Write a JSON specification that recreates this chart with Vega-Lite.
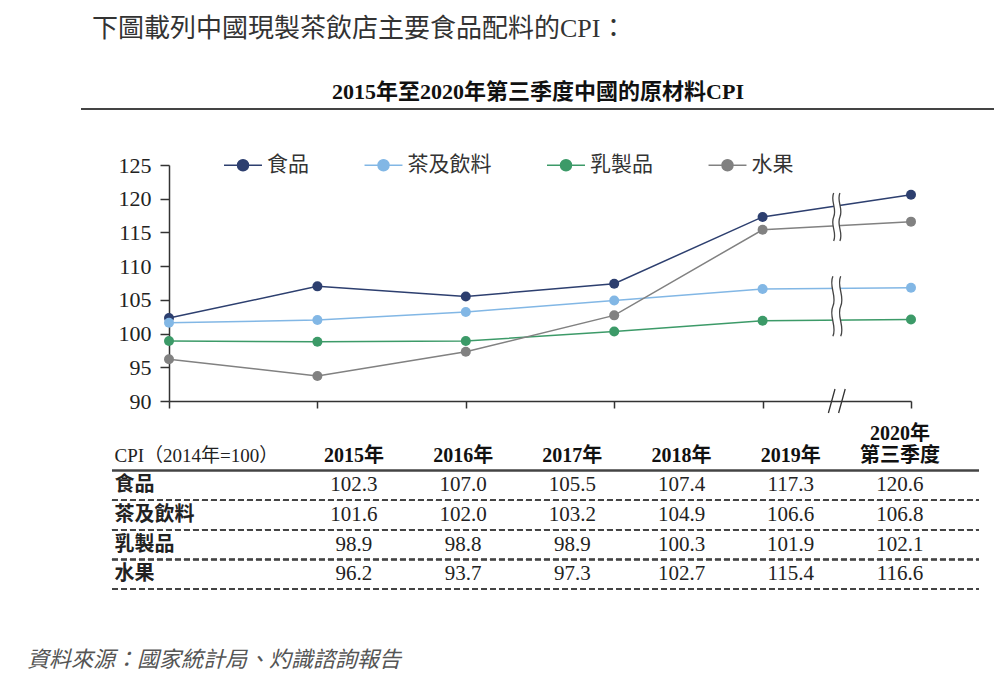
{
  "$schema": "https://vega.github.io/schema/vega-lite/v6.json",
  "background": "white",
  "padding": {"left": 27, "top": 16, "right": 0, "bottom": 0},
  "config": {
    "view": {"stroke": null},
    "font": "Liberation Serif, Noto Sans CJK TC"
  },
  "title": {
    "text": "資料來源：國家統計局、灼識諮詢報告",
    "orient": "bottom",
    "anchor": "start",
    "dx": -53,
    "offset": 60,
    "font": "Noto Sans CJK TC",
    "fontSize": 22,
    "fontStyle": "italic",
    "fontWeight": "normal",
    "color": "#555555"
  },
  "datasets": {
    "cpi": [
      {"category": "食品", "year": 2015, "period": "2015年", "value": 102.3},
      {"category": "食品", "year": 2016, "period": "2016年", "value": 107.0},
      {"category": "食品", "year": 2017, "period": "2017年", "value": 105.5},
      {"category": "食品", "year": 2018, "period": "2018年", "value": 107.4},
      {"category": "食品", "year": 2019, "period": "2019年", "value": 117.3},
      {"category": "食品", "year": 2020, "period": "2020年\n第三季度", "value": 120.6},
      {"category": "茶及飲料", "year": 2015, "period": "2015年", "value": 101.6},
      {"category": "茶及飲料", "year": 2016, "period": "2016年", "value": 102.0},
      {"category": "茶及飲料", "year": 2017, "period": "2017年", "value": 103.2},
      {"category": "茶及飲料", "year": 2018, "period": "2018年", "value": 104.9},
      {"category": "茶及飲料", "year": 2019, "period": "2019年", "value": 106.6},
      {"category": "茶及飲料", "year": 2020, "period": "2020年\n第三季度", "value": 106.8},
      {"category": "乳製品", "year": 2015, "period": "2015年", "value": 98.9},
      {"category": "乳製品", "year": 2016, "period": "2016年", "value": 98.8},
      {"category": "乳製品", "year": 2017, "period": "2017年", "value": 98.9},
      {"category": "乳製品", "year": 2018, "period": "2018年", "value": 100.3},
      {"category": "乳製品", "year": 2019, "period": "2019年", "value": 101.9},
      {"category": "乳製品", "year": 2020, "period": "2020年\n第三季度", "value": 102.1},
      {"category": "水果", "year": 2015, "period": "2015年", "value": 96.2},
      {"category": "水果", "year": 2016, "period": "2016年", "value": 93.7},
      {"category": "水果", "year": 2017, "period": "2017年", "value": 97.3},
      {"category": "水果", "year": 2018, "period": "2018年", "value": 102.7},
      {"category": "水果", "year": 2019, "period": "2019年", "value": 115.4},
      {"category": "水果", "year": 2020, "period": "2020年\n第三季度", "value": 116.6}
    ]
  },
  "spacing": 44,
  "resolve": {"legend": {"color": "independent"}},
  "vconcat": [
    {
      "width": 737,
      "height": 1,
      "title": {
        "text": "下圖載列中國現製茶飲店主要食品配料的CPI：",
        "anchor": "start",
        "dx": 12,
        "offset": 12,
        "baseline": "bottom",
        "font": "Liberation Serif, Noto Sans CJK TC",
        "fontSize": 26,
        "fontWeight": "normal",
        "color": "#333333"
      },
      "data": {"values": [{}]},
      "mark": {"type": "rule", "color": "#444444", "strokeWidth": 2},
      "encoding": {
        "x": {
          "datum": -0.1194,
          "type": "quantitative",
          "scale": {"domain": [0, 1]},
          "axis": {
            "orient": "top",
            "title": "2015年至2020年第三季度中國的原材料CPI",
            "domain": false,
            "ticks": false,
            "labels": false,
            "grid": false,
            "titleFont": "Liberation Serif, Noto Sans CJK TC",
            "titleFontSize": 22,
            "titleFontWeight": "bold",
            "titleColor": "#111111",
            "titlePadding": 6
          }
        },
        "x2": {"datum": 1.1194},
        "y": {"value": 0}
      }
    },
    {
      "spacing": 7,
      "resolve": {"legend": {"color": "independent"}},
      "vconcat": [
        {
          "width": 742,
          "height": 236,
          "layer": [
            {
              "data": {"name": "cpi"},
              "mark": {"type": "line", "strokeWidth": 1.5},
              "encoding": {
                "x": {
                  "field": "year", "type": "quantitative",
                  "scale": {"domain": [2015, 2020], "nice": false, "zero": false},
                  "axis": {"title": null, "values": [2015, 2016, 2017, 2018, 2019, 2020], "labels": false, "grid": false, "tickSize": 7, "tickColor": "#333333", "tickWidth": 1.5, "domainColor": "#333333", "domainWidth": 1.5}
                },
                "y": {
                  "field": "value", "type": "quantitative",
                  "scale": {"domain": [90, 125], "nice": false, "zero": false},
                  "axis": {"title": null, "values": [90, 95, 100, 105, 110, 115, 120, 125], "grid": false, "tickSize": 9, "tickColor": "#333333", "tickWidth": 1.5, "domainColor": "#333333", "domainWidth": 1.5, "labelFont": "Liberation Serif", "labelFontSize": 22, "labelColor": "#222222", "labelPadding": 9, "labelOverlap": false}
                },
                "color": {
                  "field": "category",
                  "type": "nominal",
                  "scale": {
                    "domain": ["食品", "茶及飲料", "乳製品", "水果"],
                    "range": ["#2D3F6F", "#82B7E5", "#3C9A68", "#818181"]
                  },
                  "legend": {
                    "orient": "none",
                    "legendX": 63.5,
                    "legendY": -10.5,
                    "direction": "horizontal",
                    "title": null,
                    "padding": 0,
                    "symbolType": "M-3.45,0L-1,0M1,0L3.45,0M-1,0A1,1 0 1,1 1,0A1,1 0 1,1 -1,0Z",
                    "symbolSize": 121,
                    "symbolStrokeWidth": 1.5,
                    "labelOffset": 13.5,
                    "labelFont": "Noto Sans CJK TC",
                    "labelFontSize": 21,
                    "labelColor": "#333333",
                    "labelLimit": 400,
                    "columnPadding": 51.5,
                    "encode": {
                      "symbols": {
                        "update": {
                          "fill": {"scale": "color", "field": "value"},
                          "stroke": {"scale": "color", "field": "value"},
                          "opacity": {"value": 1}
                        }
                      }
                    }
                  }
                }
              }
            },
            {
              "data": {"name": "cpi"},
              "mark": {"type": "point", "filled": true, "size": 100, "opacity": 1},
              "encoding": {
                "x": {
                  "field": "year", "type": "quantitative",
                  "scale": {"domain": [2015, 2020], "nice": false, "zero": false},
                  "axis": {"title": null, "values": [2015, 2016, 2017, 2018, 2019, 2020], "labels": false, "grid": false, "tickSize": 7, "tickColor": "#333333", "tickWidth": 1.5, "domainColor": "#333333", "domainWidth": 1.5}
                },
                "y": {
                  "field": "value", "type": "quantitative",
                  "scale": {"domain": [90, 125], "nice": false, "zero": false},
                  "axis": {"title": null, "values": [90, 95, 100, 105, 110, 115, 120, 125], "grid": false, "tickSize": 9, "tickColor": "#333333", "tickWidth": 1.5, "domainColor": "#333333", "domainWidth": 1.5, "labelFont": "Liberation Serif", "labelFontSize": 22, "labelColor": "#222222", "labelPadding": 9, "labelOverlap": false}
                },
                "color": {"field": "category", "type": "nominal"}
              }
            },
            {
              "data": {"values": [{}]},
              "mark": {
                "type": "point",
                "shape": "M-0.13,-1C-0.28,-0.67 0.02,-0.33 -0.13,0C-0.28,0.33 0.02,0.67 -0.13,1L0.13,1C0.28,0.67 -0.02,0.33 0.13,0C0.28,-0.33 -0.02,-0.67 0.13,-1Z",
                "filled": true, "color": "white", "strokeWidth": 0, "opacity": 1, "size": 2304
              },
              "encoding": {
                "x": {
                  "datum": 2019.5, "type": "quantitative",
                  "scale": {"domain": [2015, 2020], "nice": false, "zero": false},
                  "axis": {"title": null, "values": [2015, 2016, 2017, 2018, 2019, 2020], "labels": false, "grid": false, "tickSize": 7, "tickColor": "#333333", "tickWidth": 1.5, "domainColor": "#333333", "domainWidth": 1.5}
                },
                "y": {
                  "datum": 117.3, "type": "quantitative",
                  "scale": {"domain": [90, 125], "nice": false, "zero": false},
                  "axis": {"title": null, "values": [90, 95, 100, 105, 110, 115, 120, 125], "grid": false, "tickSize": 9, "tickColor": "#333333", "tickWidth": 1.5, "domainColor": "#333333", "domainWidth": 1.5, "labelFont": "Liberation Serif", "labelFontSize": 22, "labelColor": "#222222", "labelPadding": 9, "labelOverlap": false}
                }
              }
            },
            {
              "data": {"values": [{}]},
              "mark": {
                "type": "point",
                "shape": "M-0.13,-1C-0.28,-0.67 0.02,-0.33 -0.13,0C-0.28,0.33 0.02,0.67 -0.13,1L0.13,1C0.28,0.67 -0.02,0.33 0.13,0C0.28,-0.33 -0.02,-0.67 0.13,-1Z",
                "filled": true, "color": "white", "strokeWidth": 0, "opacity": 1, "size": 3600
              },
              "encoding": {
                "x": {
                  "datum": 2019.5, "type": "quantitative",
                  "scale": {"domain": [2015, 2020], "nice": false, "zero": false},
                  "axis": {"title": null, "values": [2015, 2016, 2017, 2018, 2019, 2020], "labels": false, "grid": false, "tickSize": 7, "tickColor": "#333333", "tickWidth": 1.5, "domainColor": "#333333", "domainWidth": 1.5}
                },
                "y": {
                  "datum": 104.05, "type": "quantitative",
                  "scale": {"domain": [90, 125], "nice": false, "zero": false},
                  "axis": {"title": null, "values": [90, 95, 100, 105, 110, 115, 120, 125], "grid": false, "tickSize": 9, "tickColor": "#333333", "tickWidth": 1.5, "domainColor": "#333333", "domainWidth": 1.5, "labelFont": "Liberation Serif", "labelFontSize": 22, "labelColor": "#222222", "labelPadding": 9, "labelOverlap": false}
                }
              }
            },
            {
              "data": {"values": [{}]},
              "mark": {
                "type": "point",
                "shape": "M-0.13,-1C-0.28,-0.67 0.02,-0.33 -0.13,0C-0.28,0.33 0.02,0.67 -0.13,1M0.13,-1C-0.02,-0.67 0.28,-0.33 0.13,0C-0.02,0.33 0.28,0.67 0.13,1",
                "filled": false, "color": "#444444", "strokeWidth": 1.3, "opacity": 1, "size": 2304
              },
              "encoding": {
                "x": {
                  "datum": 2019.5, "type": "quantitative",
                  "scale": {"domain": [2015, 2020], "nice": false, "zero": false},
                  "axis": {"title": null, "values": [2015, 2016, 2017, 2018, 2019, 2020], "labels": false, "grid": false, "tickSize": 7, "tickColor": "#333333", "tickWidth": 1.5, "domainColor": "#333333", "domainWidth": 1.5}
                },
                "y": {
                  "datum": 117.3, "type": "quantitative",
                  "scale": {"domain": [90, 125], "nice": false, "zero": false},
                  "axis": {"title": null, "values": [90, 95, 100, 105, 110, 115, 120, 125], "grid": false, "tickSize": 9, "tickColor": "#333333", "tickWidth": 1.5, "domainColor": "#333333", "domainWidth": 1.5, "labelFont": "Liberation Serif", "labelFontSize": 22, "labelColor": "#222222", "labelPadding": 9, "labelOverlap": false}
                }
              }
            },
            {
              "data": {"values": [{}]},
              "mark": {
                "type": "point",
                "shape": "M-0.13,-1C-0.28,-0.67 0.02,-0.33 -0.13,0C-0.28,0.33 0.02,0.67 -0.13,1M0.13,-1C-0.02,-0.67 0.28,-0.33 0.13,0C-0.02,0.33 0.28,0.67 0.13,1",
                "filled": false, "color": "#444444", "strokeWidth": 1.3, "opacity": 1, "size": 3600
              },
              "encoding": {
                "x": {
                  "datum": 2019.5, "type": "quantitative",
                  "scale": {"domain": [2015, 2020], "nice": false, "zero": false},
                  "axis": {"title": null, "values": [2015, 2016, 2017, 2018, 2019, 2020], "labels": false, "grid": false, "tickSize": 7, "tickColor": "#333333", "tickWidth": 1.5, "domainColor": "#333333", "domainWidth": 1.5}
                },
                "y": {
                  "datum": 104.05, "type": "quantitative",
                  "scale": {"domain": [90, 125], "nice": false, "zero": false},
                  "axis": {"title": null, "values": [90, 95, 100, 105, 110, 115, 120, 125], "grid": false, "tickSize": 9, "tickColor": "#333333", "tickWidth": 1.5, "domainColor": "#333333", "domainWidth": 1.5, "labelFont": "Liberation Serif", "labelFontSize": 22, "labelColor": "#222222", "labelPadding": 9, "labelOverlap": false}
                }
              }
            },
            {
              "data": {"values": [{}]},
              "mark": {
                "type": "point",
                "shape": "M-0.7,1L-0.15,-1M0.15,1L0.7,-1",
                "filled": false, "color": "#333333", "strokeWidth": 1.3, "opacity": 1, "size": 576
              },
              "encoding": {
                "x": {
                  "datum": 2019.5, "type": "quantitative",
                  "scale": {"domain": [2015, 2020], "nice": false, "zero": false},
                  "axis": {"title": null, "values": [2015, 2016, 2017, 2018, 2019, 2020], "labels": false, "grid": false, "tickSize": 7, "tickColor": "#333333", "tickWidth": 1.5, "domainColor": "#333333", "domainWidth": 1.5}
                },
                "y": {
                  "datum": 90, "type": "quantitative",
                  "scale": {"domain": [90, 125], "nice": false, "zero": false},
                  "axis": {"title": null, "values": [90, 95, 100, 105, 110, 115, 120, 125], "grid": false, "tickSize": 9, "tickColor": "#333333", "tickWidth": 1.5, "domainColor": "#333333", "domainWidth": 1.5, "labelFont": "Liberation Serif", "labelFontSize": 22, "labelColor": "#222222", "labelPadding": 9, "labelOverlap": false}
                }
              }
            }
          ]
        },
        {
          "width": 810,
          "height": 148,
          "data": {"name": "cpi"},
          "resolve": {"scale": {"x": "independent"}},
          "layer": [
            {
              "mark": {"type": "rule", "strokeDash": [6, 3], "strokeWidth": 1.5, "color": "#444444"},
              "encoding": {
                "x": {"datum": -0.0704, "type": "quantitative", "scale": {"domain": [0, 1]}, "axis": null},
                "x2": {"datum": 1},
                "y": {
                  "field": "category",
                  "type": "nominal",
                  "bandPosition": 1,
                  "scale": {
                    "domain": ["CPI（2014年=100）", "食品", "茶及飲料", "乳製品", "水果"],
                    "paddingInner": 0,
                    "paddingOuter": 0
                  },
                  "axis": {
                    "title": null,
                    "domain": false,
                    "ticks": false,
                    "tickSize": 0,
                    "grid": false,
                    "labelAlign": "left",
                    "labelBaseline": "middle",
                    "labelPadding": 55,
                    "labelLimit": 400,
                    "labelColor": "#222222",
                    "labelFont": {
                      "condition": {"test": "datum.value == 'CPI（2014年=100）'", "value": "Liberation Serif, Noto Sans CJK TC"},
                      "value": "Noto Sans CJK TC"
                    },
                    "labelFontWeight": {
                      "condition": {"test": "datum.value == 'CPI（2014年=100）'", "value": "normal"},
                      "value": "bold"
                    },
                    "labelFontSize": {
                      "condition": {"test": "datum.value == 'CPI（2014年=100）'", "value": 19},
                      "value": 20
                    }
                  }
                }
              }
            },
            {
              "data": {"values": [{}]},
              "mark": {"type": "rule", "strokeWidth": 2.5, "color": "#444444"},
              "encoding": {
                "x": {"datum": -0.0704, "type": "quantitative", "scale": {"domain": [0, 1]}, "axis": null},
                "x2": {"datum": 1},
                "y": {"datum": "CPI（2014年=100）", "type": "nominal", "bandPosition": 1}
              }
            },
            {
              "transform": [{"filter": "datum.category == '食品' && datum.year < 2020"}],
              "mark": {
                "type": "text",
                "font": "Liberation Serif, Noto Sans CJK TC",
                "fontSize": 20,
                "fontWeight": "bold",
                "color": "#111111",
                "baseline": "bottom",
                "dy": 10
              },
              "encoding": {
                "x": {
                  "field": "period", "type": "nominal",
                  "scale": {"type": "band", "domain": ["2015年", "2016年", "2017年", "2018年", "2019年", "2020年\n第三季度"], "paddingInner": 0, "paddingOuter": 0.709, "align": 0.842},
                  "axis": null
                },
                "y": {"datum": "CPI（2014年=100）", "type": "nominal"},
                "text": {"field": "period", "type": "nominal"}
              }
            },
            {
              "transform": [{"filter": "datum.category == '食品' && datum.year == 2020"}],
              "mark": {
                "type": "text",
                "font": "Liberation Serif, Noto Sans CJK TC",
                "fontSize": 20,
                "fontWeight": "bold",
                "color": "#111111",
                "baseline": "bottom",
                "dy": -12,
                "lineBreak": "\n",
                "lineHeight": 22
              },
              "encoding": {
                "x": {
                  "field": "period", "type": "nominal",
                  "scale": {"type": "band", "domain": ["2015年", "2016年", "2017年", "2018年", "2019年", "2020年\n第三季度"], "paddingInner": 0, "paddingOuter": 0.709, "align": 0.842},
                  "axis": null
                },
                "y": {"datum": "CPI（2014年=100）", "type": "nominal"},
                "text": {"field": "period", "type": "nominal"}
              }
            },
            {
              "mark": {
                "type": "text",
                "font": "Liberation Serif",
                "fontSize": 21,
                "color": "#222222",
                "baseline": "middle"
              },
              "encoding": {
                "x": {
                  "field": "period", "type": "nominal",
                  "scale": {"type": "band", "domain": ["2015年", "2016年", "2017年", "2018年", "2019年", "2020年\n第三季度"], "paddingInner": 0, "paddingOuter": 0.709, "align": 0.842},
                  "axis": null
                },
                "y": {"field": "category", "type": "nominal"},
                "text": {"field": "value", "type": "quantitative", "format": ".1f"}
              }
            }
          ]
        }
      ]
    }
  ]
}
